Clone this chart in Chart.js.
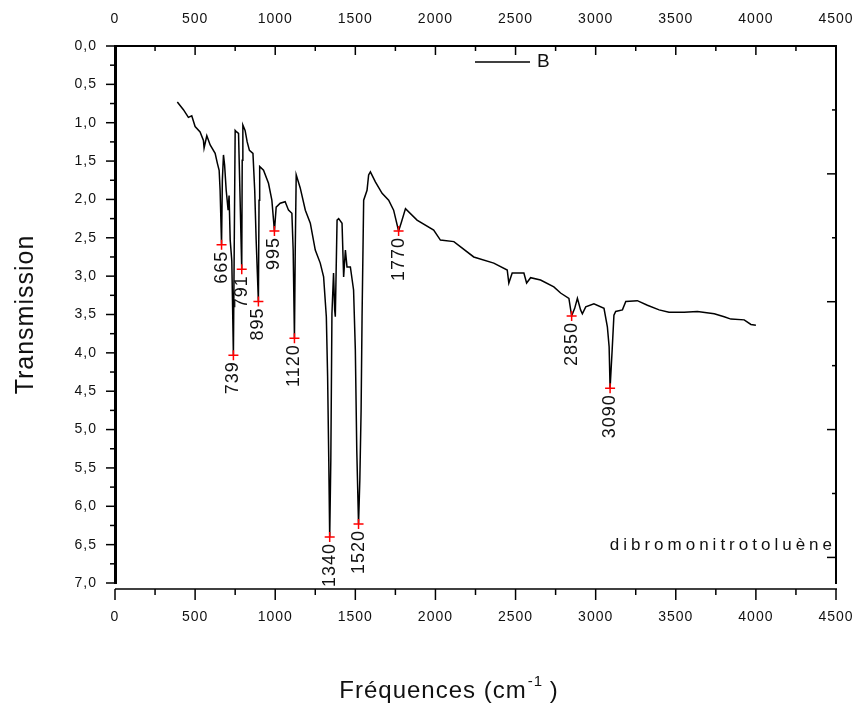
<!DOCTYPE html>
<html><head><meta charset="utf-8">
<script src="https://cdn.jsdelivr.net/npm/chart.js@4.4.1/dist/chart.umd.min.js"></script>
<style>html,body{margin:0;padding:0;background:#fff}#wrap{width:866px;height:710px}</style>
</head><body><div id="wrap"><canvas id="c" width="866" height="710"></canvas></div>
<script>
// ---- data ----
const wavenumbers = [389,427,458,479,500,531,552,556,573,594,625,639,650,656,665,670,677,684,694,706,712,719,729,739,744,750,759,771,778,791,794,798,812,825,839,861,872,881,895,899,903,927,958,979,995,1006,1031,1062,1083,1104,1112,1120,1125,1131,1156,1188,1219,1250,1281,1302,1319,1327,1334,1340,1347,1354,1364,1371,1375,1386,1396,1417,1427,1438,1448,1469,1489,1500,1509,1520,1528,1536,1542,1552,1573,1583,1594,1625,1667,1708,1739,1770,1787,1813,1885,1989,2031,2115,2239,2364,2448,2458,2479,2552,2569,2594,2656,2739,2781,2833,2850,2869,2886,2906,2917,2938,2989,3052,3073,3084,3090,3103,3114,3125,3167,3188,3260,3323,3396,3458,3552,3635,3740,3802,3844,3927,3969,4000];
const transmission = [0.73,0.83,0.93,0.91,1.05,1.12,1.23,1.33,1.17,1.29,1.40,1.53,1.62,1.88,2.59,1.75,1.42,1.55,1.88,2.14,1.95,2.53,2.80,4.03,2.66,1.10,1.12,1.14,1.75,2.91,1.49,1.03,1.10,1.25,1.36,1.40,1.88,2.53,3.33,2.01,1.57,1.62,1.79,2.01,2.41,2.10,2.05,2.03,2.14,2.18,2.66,3.81,2.66,1.68,1.85,2.14,2.31,2.66,2.83,3.01,3.53,4.31,5.36,6.40,5.40,3.49,2.96,3.44,3.53,2.27,2.25,2.31,3.01,2.66,2.88,2.88,3.18,3.96,5.27,6.23,5.66,4.75,3.53,2.01,1.88,1.68,1.64,1.77,1.92,2.01,2.14,2.41,2.30,2.12,2.27,2.40,2.53,2.55,2.75,2.83,2.92,3.09,2.96,2.96,3.09,3.02,3.05,3.14,3.22,3.29,3.52,3.42,3.29,3.44,3.49,3.40,3.36,3.42,3.66,3.92,4.46,3.96,3.51,3.46,3.44,3.33,3.32,3.38,3.44,3.47,3.47,3.46,3.49,3.53,3.56,3.57,3.63,3.64];
const peakWavenumbers = [665,739,791,895,995,1120,1340,1520,1770,2850,3090];
const peakTransmission = [2.59,4.03,2.91,3.33,2.41,3.81,6.40,6.23,2.41,3.52,4.46];
const xTickValues = [0,500,1000,1500,2000,2500,3000,3500,4000,4500];
const yTickValues = [0,0.5,1,1.5,2,2.5,3,3.5,4,4.5,5,5.5,6,6.5,7];
const rightTickValues = [1,2,3,4,5,6,7,8];
const seriesLabel = 'B';
const sampleName = 'dibromonitrotoluène';
const xTitleMain = 'Fréquences (cm';
const xTitleSup = '-1';
const xTitleEnd = ' )';
const yTitle = 'Transmission';

const FONT = "'Liberation Sans', Arial, sans-serif";
const INK = '#111';

const framePlugin = {
  id: 'frameTicks',
  beforeDraw(chart) { chart.ctx.letterSpacing = '1px'; },
  afterDraw(chart) {
    const ctx = chart.ctx, ca = chart.chartArea, s = chart.scales;
    ctx.save();
    ctx.strokeStyle = '#000';
    ctx.lineWidth = 1.5;
    const line = (x1, y1, x2, y2) => { ctx.beginPath(); ctx.moveTo(x1, y1); ctx.lineTo(x2, y2); ctx.stroke(); };
    // left ticks (major + minor)
    for (let i = 0; i < yTickValues.length; i++) {
      const y = s.y.getPixelForValue(yTickValues[i]);
      line(ca.left - 9, y, ca.left, y);
      if (i < yTickValues.length - 1) {
        const ym = s.y.getPixelForValue((yTickValues[i] + yTickValues[i + 1]) / 2);
        line(ca.left - 5, ym, ca.left, ym);
      }
    }
    // top ticks inward
    for (let i = 0; i < xTickValues.length; i++) {
      const x = s.x2.getPixelForValue(xTickValues[i]);
      line(x, ca.top, x, ca.top + 9);
      if (i < xTickValues.length - 1) {
        const xm = s.x2.getPixelForValue((xTickValues[i] + xTickValues[i + 1]) / 2);
        line(xm, ca.top, xm, ca.top + 5);
      }
    }
    // right ticks inward
    rightTickValues.forEach(v => {
      const y = s.y2.getPixelForValue(v);
      const len = v % 2 === 0 ? 9 : 4;
      line(ca.right - len, y, ca.right, y);
    });
    // detached bottom axis
    const yb = ca.bottom + 6;
    line(ca.left, yb, ca.right + 1, yb);
    for (let i = 0; i < xTickValues.length; i++) {
      const x = s.x.getPixelForValue(xTickValues[i]);
      line(x, yb, x, yb + 11);
      if (i < xTickValues.length - 1) {
        const xm = s.x.getPixelForValue((xTickValues[i] + xTickValues[i + 1]) / 2);
        line(xm, yb, xm, yb + 6);
      }
    }
    // legend
    ctx.lineWidth = 1.5;
    line(475, 62, 530, 62);
    ctx.fillStyle = INK;
    ctx.font = '19px ' + FONT;
    ctx.letterSpacing = '0px';
    ctx.textAlign = 'left';
    ctx.textBaseline = 'middle';
    ctx.fillText(seriesLabel, 537, 62);
    // sample name
    ctx.font = '17px ' + FONT;
    ctx.letterSpacing = '4px';
    ctx.textAlign = 'right';
    ctx.fillText(sampleName, 836, 545);
    // x title with superscript
    ctx.letterSpacing = '1px';
    ctx.textAlign = 'left';
    ctx.textBaseline = 'alphabetic';
    const big = '24px ' + FONT, small = '15px ' + FONT;
    ctx.font = big; const w1 = ctx.measureText(xTitleMain).width; const w3 = ctx.measureText(xTitleEnd).width;
    ctx.font = small; const w2 = ctx.measureText(xTitleSup).width;
    let x0 = 449 - (w1 + w2 + w3) / 2;
    const yBase = 698;
    ctx.font = big; ctx.fillText(xTitleMain, x0, yBase);
    ctx.font = small; ctx.fillText(xTitleSup, x0 + w1 + 1, yBase - 12);
    ctx.font = big; ctx.fillText(xTitleEnd, x0 + w1 + w2, yBase);
    ctx.restore();
  },
  afterDatasetsDraw(chart) {
    const ctx = chart.ctx, s = chart.scales;
    ctx.save();
    ctx.fillStyle = INK;
    ctx.font = '18px ' + FONT;
    ctx.letterSpacing = '1px';
    ctx.textAlign = 'right';
    ctx.textBaseline = 'middle';
    peakWavenumbers.forEach((w, i) => {
      const x = s.x.getPixelForValue(w);
      const y = s.y.getPixelForValue(peakTransmission[i]);
      ctx.save();
      ctx.translate(x, y + 6);
      ctx.rotate(-Math.PI / 2);
      ctx.fillText(String(w), 0, 0);
      ctx.restore();
    });
    ctx.restore();
  }
};

const tickFont = { family: FONT, size: 14 };
const noPadX = sc => { sc.paddingLeft = 0; sc.paddingRight = 0; };
const noPadY = sc => { sc.paddingTop = 0; sc.paddingBottom = 0; };
new Chart(document.getElementById('c'), {
  type: 'line',
  data: {
    datasets: [
      {
        label: 'peaks',
        data: peakWavenumbers.map((w, i) => ({ x: w, y: peakTransmission[i] })),
        showLine: false,
        pointStyle: 'cross',
        pointRadius: 5,
        pointBorderColor: '#ff0000',
        pointBorderWidth: 1.5,
        order: 0
      },
      {
        label: seriesLabel,
        data: wavenumbers.map((w, i) => ({ x: w, y: transmission[i] })),
        borderColor: '#000',
        borderWidth: 1.5,
        pointRadius: 0,
        tension: 0,
        fill: false,
        order: 1
      }
    ]
  },
  options: {
    responsive: false,
    animation: false,
    devicePixelRatio: 1,
    layout: { padding: 0 },
    plugins: { legend: { display: false }, tooltip: { enabled: false } },
    scales: {
      x: {
        type: 'linear', position: 'bottom', min: 0, max: 4500,
        afterBuildTicks: sc => { sc.ticks = xTickValues.map(v => ({ value: v })); },
        afterFit: sc => { sc.height = 127; noPadX(sc); },
        grid: { display: true, drawOnChartArea: false, drawTicks: false },
        border: { display: false },
        ticks: { font: tickFont, color: INK, padding: 26, maxRotation: 0, autoSkip: false, callback: v => String(v) }
      },
      x2: {
        type: 'linear', position: 'top', min: 0, max: 4500,
        afterBuildTicks: sc => { sc.ticks = xTickValues.map(v => ({ value: v })); },
        afterFit: sc => { sc.height = 46; noPadX(sc); },
        grid: { display: true, drawOnChartArea: false, drawTicks: false },
        border: { display: true, color: '#000', width: 2 },
        ticks: { font: tickFont, color: INK, padding: 18, maxRotation: 0, autoSkip: false, callback: v => String(v) }
      },
      y: {
        type: 'linear', position: 'left', reverse: true, min: 0, max: 7,
        afterBuildTicks: sc => { sc.ticks = yTickValues.map(v => ({ value: v })); },
        afterFit: sc => { sc.width = 115; noPadY(sc); },
        grid: { display: true, drawOnChartArea: false, drawTicks: false },
        border: { display: true, color: '#000', width: 3 },
        ticks: { font: tickFont, color: INK, padding: 18, autoSkip: false,
                 callback: v => Number(v).toFixed(1).replace('.', ',') },
        title: { display: true, text: yTitle, font: { family: FONT, size: 25 }, color: INK, padding: 11 }
      },
      y2: {
        type: 'linear', position: 'right', reverse: true, min: 0, max: 8.4,
        afterBuildTicks: sc => { sc.ticks = rightTickValues.map(v => ({ value: v })); },
        afterFit: sc => { sc.width = 30; noPadY(sc); },
        grid: { display: true, drawOnChartArea: false, drawTicks: false },
        border: { display: true, color: '#000', width: 2 },
        ticks: { display: false }
      }
    }
  },
  plugins: [framePlugin]
});
</script>
</body></html>
